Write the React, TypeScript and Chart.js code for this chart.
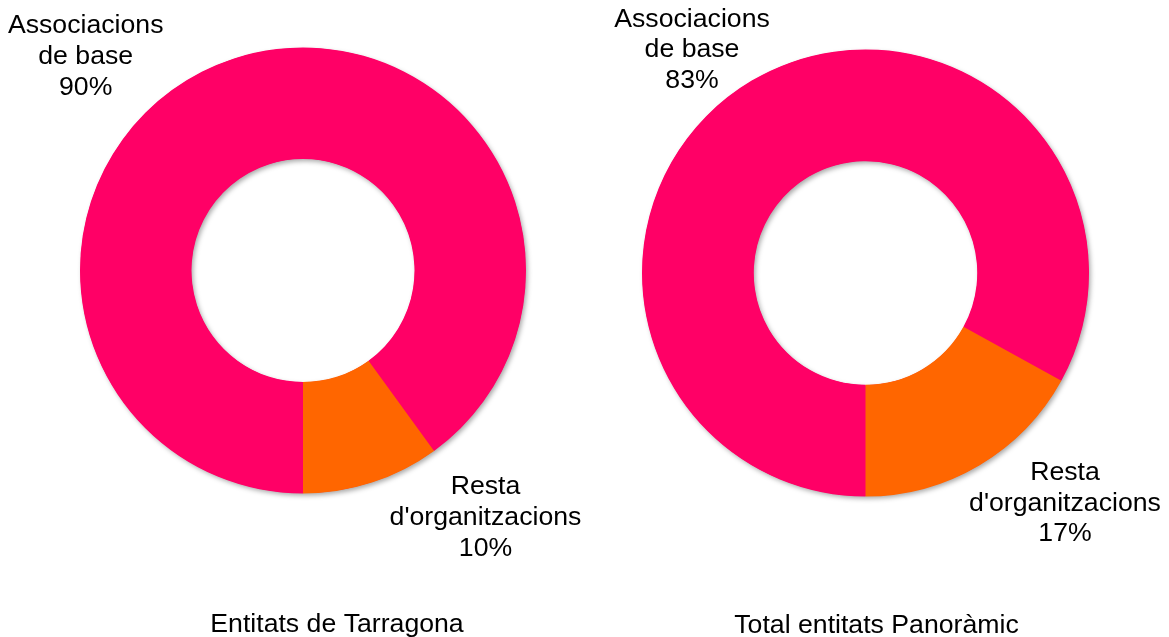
import React, { useEffect, useRef } from "react";
import { Chart, registerables } from "chart.js";

Chart.register(...registerables);

// ---- Data ----
const categories = ["Associacions de base", "Resta d'organitzacions"];
const categoryLabelLines = [["Associacions", "de base"], ["Resta", "d'organitzacions"]];
const tarragonaValues = [90, 10];
const panoramicValues = [83, 17];
const chartTitles = ["Entitats de Tarragona", "Total entitats Panoràmic"];
const sliceColors = ["#FF0066", "#FF6600"];

// ---- Style / layout ----
const FONT = "'Liberation Sans', Arial, sans-serif";
const FONT_SIZE = 26.67;
const LINE_H = 30.67;

type PanelCfg = {
  values: number[];
  title: string;
  left: number;
  width: number;
  padding: { left: number; right: number; top: number; bottom: number };
  labelOffsets: { dx: number; dy: number }[]; // relative to doughnut centre (centre x, first baseline)
  titlePos: { x: number; y: number };
};

const panels: PanelCfg[] = [
  {
    values: tarragonaValues,
    title: chartTitles[0],
    left: 0,
    width: 584,
    padding: { left: 80, right: 58, top: 47.5, bottom: 143.5 },
    labelOffsets: [
      { dx: -217.3, dy: -237.2 },
      { dx: 182.5, dy: 223.8 },
    ],
    titlePos: { x: 337, y: 632 },
  },
  {
    values: panoramicValues,
    title: chartTitles[1],
    left: 584,
    width: 585,
    padding: { left: 58, right: 80, top: 49.5, bottom: 140.5 },
    labelOffsets: [
      { dx: -173.5, dy: -246.3 },
      { dx: 199.5, dy: 207 },
    ],
    titlePos: { x: 292.5, y: 633 },
  },
];

const H = 637;

function DoughnutPanel({ cfg }: { cfg: PanelCfg }) {
  const ref = useRef<HTMLCanvasElement | null>(null);

  useEffect(() => {
    if (!ref.current) return;
    const total = cfg.values.reduce((a, b) => a + b, 0);

    const shadowPlugin = {
      id: "ringShadow",
      beforeDatasetsDraw(chart: any) {
        const arc: any = chart.getDatasetMeta(0).data[0];
        if (!arc) return;
        const { x, y, outerRadius, innerRadius } = arc.getProps(["x", "y", "outerRadius", "innerRadius"], true);
        const ctx = chart.ctx;
        ctx.save();
        ctx.shadowColor = "rgba(0,0,0,0.35)";
        ctx.shadowBlur = 5;
        ctx.shadowOffsetX = 2;
        ctx.shadowOffsetY = 2.5;
        ctx.beginPath();
        ctx.arc(x, y, outerRadius - 0.5, 0, Math.PI * 2);
        ctx.arc(x, y, innerRadius + 0.5, 0, Math.PI * 2, true);
        ctx.closePath();
        ctx.fillStyle = sliceColors[0];
        ctx.fill("evenodd");
        ctx.restore();
      },
    };

    const labelPlugin = {
      id: "sliceLabels",
      afterDatasetsDraw(chart: any) {
        const meta = chart.getDatasetMeta(0);
        const ctx = chart.ctx;
        ctx.save();
        ctx.fillStyle = "#000000";
        ctx.font = `${FONT_SIZE}px ${FONT}`;
        ctx.textAlign = "center";
        ctx.textBaseline = "alphabetic";
        meta.data.forEach((arc: any, i: number) => {
          const { x, y } = arc.getProps(["x", "y"], true);
          const off = cfg.labelOffsets[i];
          const pct = Math.round((cfg.values[i] / total) * 100) + "%";
          const lines = [...categoryLabelLines[i], pct];
          lines.forEach((ln, j) => {
            ctx.fillText(ln, x + off.dx, y + off.dy + j * LINE_H);
          });
        });
        ctx.fillText(cfg.title, cfg.titlePos.x, cfg.titlePos.y);
        ctx.restore();
      },
    };

    const chart = new Chart(ref.current, {
      type: "doughnut",
      data: {
        labels: categories,
        datasets: [
          {
            data: cfg.values,
            backgroundColor: sliceColors,
            borderWidth: 0,
            hoverOffset: 0,
          },
        ],
      },
      options: {
        responsive: false,
        animation: false,
        cutout: "50%",
        rotation: 180,
        layout: { padding: cfg.padding },
        plugins: {
          legend: { display: false },
          title: { display: false },
          tooltip: { enabled: false },
        },
        events: [],
      },
      plugins: [shadowPlugin, labelPlugin],
    });
    return () => chart.destroy();
  }, [cfg]);

  return (
    <canvas
      ref={ref}
      width={cfg.width}
      height={H}
      style={{ position: "absolute", left: cfg.left, top: 0, width: cfg.width, height: H }}
    />
  );
}

export default function App() {
  return (
    <div style={{ position: "absolute", left: 0, top: 0, width: 1169, height: H, background: "#ffffff", overflow: "hidden" }}>
      {panels.map((p, i) => (
        <DoughnutPanel key={i} cfg={p} />
      ))}
    </div>
  );
}
